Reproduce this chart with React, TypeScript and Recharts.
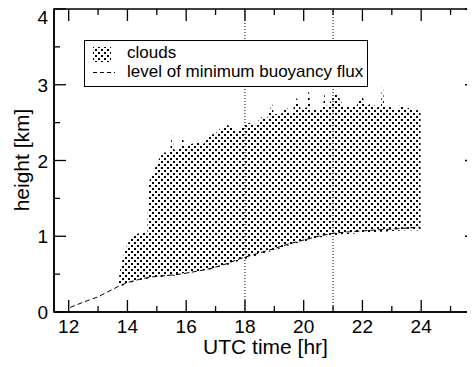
import { ComposedChart, Area, Line, XAxis, YAxis, ReferenceLine, ReferenceArea, Legend } from "recharts";

// cloud layer: time [hr], cloud base and cloud top [km]
const cloudTime = [
  13.68, 13.75, 13.85, 13.95, 14.05, 14.2, 14.5, 14.68, 14.72, 14.85, 15.0, 15.2, 15.45, 15.52, 15.58,
  15.8, 15.88, 15.95, 16.2, 16.4, 16.6, 16.8, 17.0, 17.15, 17.4, 17.6, 17.75, 17.95, 18.15, 18.35,
  18.55, 18.75, 18.85, 18.92, 18.98, 19.2, 19.42, 19.6, 19.76, 19.9, 20.1, 20.17, 20.24, 20.44, 20.65,
  20.71, 20.78, 21.05, 21.15, 21.35, 21.56, 21.8, 21.97, 22.15, 22.31, 22.5, 22.63, 22.68, 22.74, 22.99,
  23.15, 23.33, 23.5, 23.6, 23.75, 23.87, 23.98,
];
const cloudBase = [
  0.33, 0.34, 0.35, 0.37, 0.38, 0.40, 0.43, 0.44, 0.45, 0.45, 0.46, 0.47, 0.48, 0.48, 0.48,
  0.50, 0.51, 0.51, 0.53, 0.54, 0.55, 0.56, 0.58, 0.60, 0.62, 0.65, 0.67, 0.69, 0.72, 0.74,
  0.77, 0.79, 0.80, 0.81, 0.81, 0.84, 0.87, 0.89, 0.91, 0.92, 0.94, 0.95, 0.96, 0.98, 0.99,
  1.00, 1.00, 1.01, 1.02, 1.03, 1.03, 1.04, 1.05, 1.05, 1.05, 1.06, 1.06, 1.06, 1.06, 1.07,
  1.07, 1.08, 1.08, 1.08, 1.08, 1.08, 1.06,
];
const cloudTop = [
  0.36, 0.55, 0.72, 0.85, 0.93, 1.02, 1.05, 1.05, 1.72, 1.80, 1.97, 2.10, 2.12, 2.36, 2.14,
  2.18, 2.30, 2.20, 2.22, 2.25, 2.22, 2.33, 2.36, 2.42, 2.47, 2.42, 2.40, 2.45, 2.50, 2.48,
  2.57, 2.55, 2.66, 2.76, 2.62, 2.60, 2.70, 2.62, 2.83, 2.68, 2.70, 2.94, 2.68, 2.67, 2.70,
  2.89, 2.70, 2.86, 2.87, 2.72, 2.70, 2.72, 2.86, 2.72, 2.76, 2.70, 2.72, 3.10, 2.72, 2.70,
  2.66, 2.76, 2.68, 2.70, 2.64, 2.67, 2.65,
];

// level of minimum buoyancy flux
const fluxTime = [
  12.05, 12.5, 13.0, 13.4, 13.7, 14.0, 14.4, 14.75, 15.3, 15.8, 16.4, 16.9, 17.4, 17.8, 18.4,
  18.94, 19.5, 20.1, 20.5, 21.0, 21.6, 22.35, 23.2, 23.95,
];
const fluxLevel = [
  0.06, 0.13, 0.2, 0.28, 0.34, 0.39, 0.43, 0.46, 0.48, 0.5, 0.54, 0.58, 0.64, 0.7, 0.77,
  0.83, 0.9, 0.96, 1.0, 1.04, 1.06, 1.08, 1.1, 1.12,
];

const xDomain = [11.5, 25.9];
const yDomain = [0, 4];
const xTicks = [12, 13, 14, 15, 16, 17, 18, 19, 20, 21, 22, 23, 24, 25];
const yTicks = [0, 0.5, 1, 1.5, 2, 2.5, 3, 3.5, 4];
const markedHours = [18, 21];

const cloudData = cloudTime.map((t, i) => ({ t, base: cloudBase[i], top: cloudTop[i] }));
const fluxData = fluxTime.map((t, i) => ({ t, level: fluxLevel[i] }));

const FONT = "'Liberation Sans', Arial, Helvetica, sans-serif";
const CHART_W = 480;
const CHART_H = 359;
const MARGIN = { top: 1, right: 11, bottom: 0, left: 0 };
const Y_AXIS_W = 46;
const X_AXIS_H = 55;
const PLOT_W = CHART_W - MARGIN.left - MARGIN.right - Y_AXIS_W;
const PLOT_H = CHART_H - MARGIN.top - MARGIN.bottom - X_AXIS_H;
// pixel lengths of the inward ticks, turned into data units
const PX_PER_HR = PLOT_W / (xDomain[1] - xDomain[0]);
const PX_PER_KM = PLOT_H / (yDomain[1] - yDomain[0]);
const tickLen = (major: boolean) => (major ? 12 : 6);
const axisLine = { stroke: "#000", strokeWidth: 1.5 };

const xTickMarks = xTicks.flatMap((t) => {
  const dy = tickLen(t % 2 === 0) / PX_PER_KM;
  return [
    { key: `b${t}`, seg: [{ x: t, y: yDomain[0] }, { x: t, y: yDomain[0] + dy }] },
    { key: `t${t}`, seg: [{ x: t, y: yDomain[1] }, { x: t, y: yDomain[1] - dy }] },
  ];
});
const yTickMarks = yTicks.flatMap((v) => {
  const dx = tickLen(Number.isInteger(v)) / PX_PER_HR;
  return [
    { key: `l${v}`, seg: [{ x: xDomain[0], y: v }, { x: xDomain[0] + dx, y: v }] },
    { key: `r${v}`, seg: [{ x: xDomain[1], y: v }, { x: xDomain[1] - dx, y: v }] },
  ];
});

const BottomLabel = ({ x, y, payload }: any) =>
  payload.value % 2 === 0 ? (
    <text x={x} y={y + 21} textAnchor="middle" fontSize={19} fontFamily={FONT} fill="#000">
      {payload.value}
    </text>
  ) : (
    <g />
  );

const LeftLabel = ({ x, y, payload }: any) =>
  Number.isInteger(payload.value) ? (
    <text x={x - 6} y={y + 7} textAnchor="end" fontSize={19} fontFamily={FONT} fill="#000">
      {payload.value}
    </text>
  ) : (
    <g />
  );

const dots = "radial-gradient(circle, #000 1.1px, transparent 1.4px)";

const LegendBox = () => (
  <div
    style={{
      position: "relative",
      width: 284,
      height: 47,
      boxSizing: "border-box",
      border: "1px solid #000",
      background: "#fff",
      fontFamily: FONT,
      fontSize: 17,
      lineHeight: 1,
      color: "#000",
    }}
  >
    <div
      style={{
        position: "absolute",
        left: 8,
        top: 6,
        width: 18,
        height: 15,
        backgroundImage: `${dots}, ${dots}`,
        backgroundSize: "6px 6px",
        backgroundPosition: "0 0, 3px 3px",
      }}
    />
    <span style={{ position: "absolute", left: 42, top: 2.6, whiteSpace: "nowrap" }}>clouds</span>
    <div
      style={{
        position: "absolute",
        left: 8,
        top: 31,
        width: 22,
        height: 1,
        background: "repeating-linear-gradient(to right, #000 0 4px, transparent 4px 7px)",
      }}
    />
    <span style={{ position: "absolute", left: 42, top: 21.6, whiteSpace: "nowrap" }}>
      level of minimum buoyancy flux
    </span>
  </div>
);

export default function App() {
  return (
    <div style={{ position: "relative", width: 467, height: 359, overflow: "hidden" }}>
      <ComposedChart width={CHART_W} height={CHART_H} margin={MARGIN}>
        <defs>
          <pattern id="cloudDots" width={6} height={6} patternUnits="userSpaceOnUse">
            <rect x={0} y={0} width={2} height={2} fill="#000" />
            <rect x={3} y={3} width={2} height={2} fill="#000" />
          </pattern>
        </defs>
        <XAxis
          xAxisId="b"
          type="number"
          dataKey="t"
          domain={xDomain}
          ticks={xTicks}
          height={X_AXIS_H}
          tickSize={0}
          tickMargin={0}
          tickLine={false}
          tick={<BottomLabel />}
          axisLine={axisLine}
          label={{
            content: ({ viewBox }: any) => (
              <text
                x={viewBox.x + viewBox.width / 2}
                y={viewBox.y + 42}
                textAnchor="middle"
                fontSize={21}
                fontFamily={FONT}
                fill="#000"
              >
                UTC time [hr]
              </text>
            ),
          }}
        />
        <YAxis
          yAxisId="l"
          type="number"
          domain={yDomain}
          ticks={yTicks}
          width={Y_AXIS_W}
          tickSize={0}
          tickMargin={0}
          tickLine={false}
          tick={<LeftLabel />}
          axisLine={axisLine}
        />
        <ReferenceArea
          xAxisId="b"
          yAxisId="l"
          x1={xDomain[0]}
          x2={xDomain[1]}
          y1={yDomain[0]}
          y2={yDomain[1]}
          fill="none"
          stroke="#000"
          strokeWidth={1.5}
        />
        {[...xTickMarks, ...yTickMarks].map((m) => (
          <ReferenceLine
            key={m.key}
            xAxisId="b"
            yAxisId="l"
            segment={m.seg}
            stroke="#000"
            strokeWidth={1.3}
          />
        ))}
        {markedHours.map((h) => (
          <ReferenceLine
            key={h}
            x={h}
            xAxisId="b"
            yAxisId="l"
            stroke="#000"
            strokeWidth={1}
            strokeDasharray="1 2"
          />
        ))}
        <Area
          xAxisId="b"
          yAxisId="l"
          data={cloudData}
          dataKey={(d: any) => [d.base, d.top]}
          type="linear"
          stroke="none"
          fill="url(#cloudDots)"
          fillOpacity={1}
          isAnimationActive={false}
        />
        <Line
          xAxisId="b"
          yAxisId="l"
          data={fluxData}
          dataKey="level"
          type="linear"
          stroke="#000"
          strokeWidth={1}
          strokeDasharray="5 3"
          dot={false}
          isAnimationActive={false}
        />
        <Legend
          layout="horizontal"
          verticalAlign="middle"
          align="center"
          width={284}
          height={47}
          wrapperStyle={{ left: 76, top: 32 }}
          content={() => <LegendBox />}
        />
      </ComposedChart>
      <div
        style={{
          position: "absolute",
          left: 13,
          top: 152,
          transform: "translate(-50%, -50%) rotate(-90deg)",
          whiteSpace: "nowrap",
          fontFamily: FONT,
          fontSize: 21,
          lineHeight: 1,
          color: "#000",
        }}
      >
        height [km]
      </div>
    </div>
  );
}
